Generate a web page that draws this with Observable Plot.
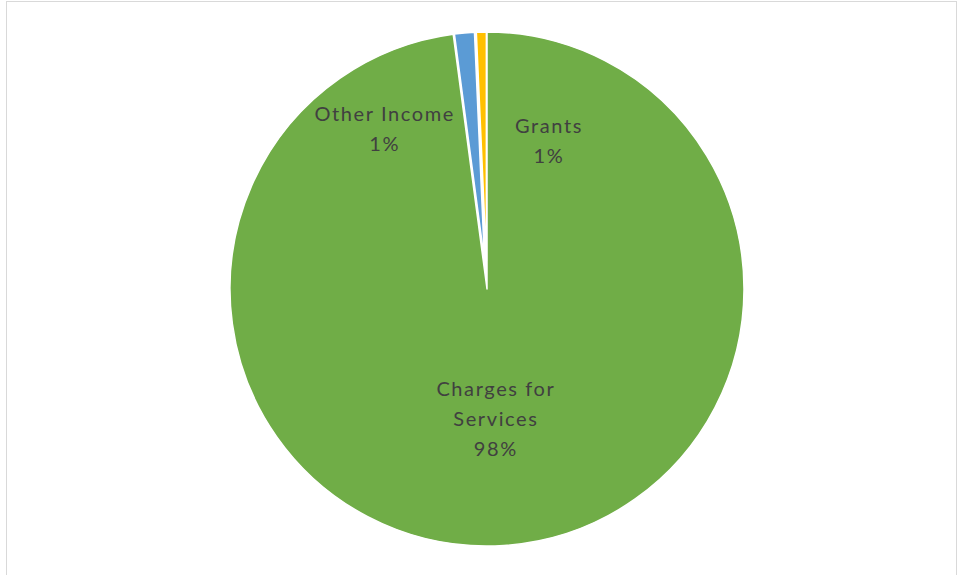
<!DOCTYPE html>
<html><head><meta charset="utf-8">
<script src="https://cdn.jsdelivr.net/npm/d3@7"></script>
<script src="https://cdn.jsdelivr.net/npm/@observablehq/plot@0.6"></script>
<style>
body{margin:0;background:#fff}
svg{display:block}
#chart text{letter-spacing:1.6px}
</style>
</head><body><div id="chart"></div>
<script>
// Data
const categories = ["Charges for Services", "Other Income", "Grants"];
const labelLines = ["Charges for\nServices", "Other Income", "Grants"];
const shares = [97.9, 1.4, 0.7];
const colors = ["#70AD47", "#5B9BD5", "#FFC000"];

// Style constants
const explode = [0, 0.11, 0.11];
const labelRadius = [0.495, 0.637, 0.588];
const labelShiftX = [0, -0.344, 0.252];

const data = categories.map((c, i) => ({category: c, label: labelLines[i], value: shares[i], color: colors[i]}));
const arcs = d3.pie().value(d => d.value).sort(null)(data);

const labels = arcs.map((a, i) => {
  const mid = (a.startAngle + a.endAngle) / 2;
  return {
    x: labelRadius[i] * Math.sin(mid) + labelShiftX[i],
    y: labelRadius[i] * Math.cos(mid),
    text: a.data.label + "\n" + Math.round(a.data.value) + "%"
  };
});

function pieMark(index, scales, values, dimensions) {
  const {x, y} = scales;
  const cx = x(0), cy = y(0), r = x(1) - x(0);
  const g = d3.create("svg:g");
  g.append("rect")
    .attr("x", 6.5).attr("y", 1.5)
    .attr("width", dimensions.width - 7).attr("height", dimensions.height + 5)
    .attr("fill", "none").attr("stroke", "#d9d9d9").attr("stroke-width", 1);
  arcs.forEach((a, i) => {
    const e = explode[i] * r;
    const mid = (a.startAngle + a.endAngle) / 2;
    const dx = e * Math.sin(mid), dy = -e * Math.cos(mid);
    g.append("path")
      .attr("d", d3.arc().innerRadius(0).outerRadius(r - e)(a))
      .attr("transform", `translate(${cx + dx},${cy + dy})`)
      .attr("fill", a.data.color)
      .attr("stroke", "white")
      .attr("stroke-width", 1.5)
      .attr("stroke-linejoin", "round");
  });
  return g.node();
}

const chart = Plot.plot({
  width: 957,
  height: 575,
  marginLeft: 230,
  marginRight: 213,
  marginTop: 32,
  marginBottom: 29,
  x: {domain: [-1, 1], axis: null},
  y: {domain: [-1, 1], axis: null},
  style: {fontFamily: "Lato, 'Open Sans', sans-serif", fontSize: "20px", background: "#fff"},
  marks: [
    pieMark,
    Plot.text(labels, {
      x: "x", y: "y", text: "text",
      fontSize: 20, lineHeight: 1.5, fill: "#404040",
      textAnchor: "middle", lineAnchor: "middle"
    })
  ]
});
document.getElementById("chart").append(chart);
</script>
</body></html>
